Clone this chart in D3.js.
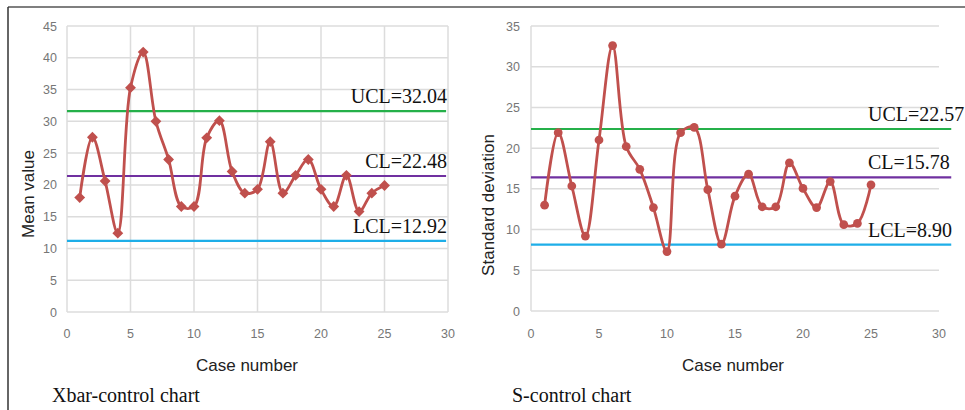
<!DOCTYPE html>
<html>
<head>
<meta charset="utf-8">
<script src="https://cdn.jsdelivr.net/npm/d3@7"></script>
<style>
  html, body { margin: 0; padding: 0; background: #fff; }
  svg { display: block; }
  .tick-label { font-family: "Liberation Sans", Arial, sans-serif; font-size: 12.5px; fill: #767676; }
  .axis-title { font-family: "Liberation Sans", Arial, sans-serif; font-size: 17px; fill: #222; }
  .limit-label, .caption { font-family: "Liberation Serif", "Times New Roman", serif; font-size: 20px; fill: #111; }
</style>
</head>
<body>
<svg id="chart" width="965" height="410"></svg>
<script>
  // case numbers 1..25
  const caseNumbers = [
    1, 2, 3, 4, 5, 6, 7, 8, 9, 10, 11, 12, 13, 14, 15, 16, 17, 18, 19, 20, 21, 22, 23, 24, 25,
  ];

  // Xbar chart (mean value per case)
  const meanValues = [
    18.0, 27.5, 20.6, 12.4, 35.3, 40.9, 30.0, 24.0, 16.6, 16.6, 27.4, 30.1, 22.1,
    18.7, 19.3, 26.8, 18.7, 21.5, 24.0, 19.3, 16.6, 21.5, 15.8, 18.7, 19.9,
  ];
  const meanLimitLevels = [31.6, 21.4, 11.2];
  const meanLimitLabels = ["UCL=32.04", "CL=22.48", "LCL=12.92"];
  const meanYTicks = [0, 5, 10, 15, 20, 25, 30, 35, 40, 45];

  // S chart (standard deviation per case)
  const sdValues = [
    13.0, 21.9, 15.35, 9.2, 21.0, 32.6, 20.2, 17.4, 12.7, 7.3, 21.9, 22.55, 14.9,
    8.2, 14.1, 16.8, 12.8, 12.8, 18.2, 15.05, 12.7, 15.9, 10.6, 10.75, 15.5,
  ];
  const sdLimitLevels = [22.35, 16.4, 8.15];
  const sdLimitLabels = ["UCL=22.57", "CL=15.78", "LCL=8.90"];
  const sdYTicks = [0, 5, 10, 15, 20, 25, 30, 35];

  const xTicks = [0, 5, 10, 15, 20, 25, 30];
  const limitColors = ["#25b04a", "#7030a0", "#1eaee8"];
  const LINE_COLOR = "#c0504d";

  const svg = d3.select("#chart");

  // frame around the figure (top + left edge)
  svg.append("line").attr("x1", 8).attr("x2", 965).attr("y1", 7).attr("y2", 7)
    .attr("stroke", "#555").attr("stroke-width", 1.5);
  svg.append("line").attr("x1", 8).attr("x2", 8).attr("y1", 7).attr("y2", 410)
    .attr("stroke", "#333").attr("stroke-width", 1.5);

  function drawPanel(cfg) {
    const x = d3.scaleLinear().domain([0, 30]).range(cfg.xRange);
    const y = d3.scaleLinear().domain(cfg.yDomain).range(cfg.yRange);
    const g = svg.append("g");

    // horizontal grid
    g.append("g")
      .selectAll("line")
      .data(cfg.yTicks)
      .join("line")
      .attr("x1", x(0)).attr("x2", x(30))
      .attr("y1", (d) => y(d)).attr("y2", (d) => y(d))
      .attr("stroke", "#dcdcdc").attr("stroke-width", 1.5);

    // vertical grid (Xbar chart only) / left axis line
    const vLines = cfg.verticalGrid ? xTicks : [0];
    g.append("g")
      .selectAll("line")
      .data(vLines)
      .join("line")
      .attr("x1", (d) => x(d)).attr("x2", (d) => x(d))
      .attr("y1", y(cfg.yDomain[1])).attr("y2", y(0))
      .attr("stroke", "#dcdcdc").attr("stroke-width", 1.5);

    // tick labels
    g.append("g")
      .selectAll("text")
      .data(cfg.yTicks)
      .join("text")
      .attr("class", "tick-label")
      .attr("x", cfg.yLabelX)
      .attr("y", (d) => y(d) + 4.5)
      .attr("text-anchor", "end")
      .text((d) => d);

    g.append("g")
      .selectAll("text")
      .data(xTicks)
      .join("text")
      .attr("class", "tick-label")
      .attr("x", (d) => x(d))
      .attr("y", 338)
      .attr("text-anchor", "middle")
      .text((d) => d);

    // control limits
    g.append("g")
      .selectAll("line")
      .data(cfg.limits)
      .join("line")
      .attr("x1", x(0)).attr("x2", x(cfg.limitEnd))
      .attr("y1", (d) => y(d)).attr("y2", (d) => y(d))
      .attr("stroke", (d, i) => limitColors[i])
      .attr("stroke-width", 2.2);

    g.append("g")
      .selectAll("text")
      .data(cfg.limits)
      .join("text")
      .attr("class", "limit-label")
      .attr("x", cfg.labelX)
      .attr("y", (d) => y(d) - 8)
      .attr("text-anchor", cfg.labelAnchor)
      .text((d, i) => cfg.limitLabels[i]);

    // data series
    const pts = caseNumbers.map((c, i) => [c, cfg.values[i]]);
    const line = d3.line()
      .x((d) => x(d[0]))
      .y((d) => y(d[1]))
      .curve(d3.curveCatmullRom.alpha(0.5));

    g.append("path")
      .datum(pts)
      .attr("d", line)
      .attr("fill", "none")
      .attr("stroke", LINE_COLOR)
      .attr("stroke-width", 2.8);

    g.append("g")
      .selectAll("path")
      .data(pts)
      .join("path")
      .attr("transform", (d) => "translate(" + x(d[0]) + "," + y(d[1]) + ")")
      .attr("d", d3.symbol().type(cfg.symbol).size(cfg.symbolSize))
      .attr("fill", LINE_COLOR);

    // axis titles
    g.append("text")
      .attr("class", "axis-title")
      .attr("transform", "translate(" + cfg.yTitleX + "," + cfg.yTitleY + ") rotate(-90)")
      .attr("text-anchor", "middle")
      .text(cfg.yTitle);

    g.append("text")
      .attr("class", "axis-title")
      .attr("x", cfg.xTitleX)
      .attr("y", 371)
      .attr("text-anchor", "middle")
      .text("Case number");

    g.append("text")
      .attr("class", "caption")
      .attr("x", cfg.captionX)
      .attr("y", 402)
      .text(cfg.caption);
  }

  drawPanel({
    xRange: [67, 448],
    yDomain: [0, 45],
    yRange: [312, 26],
    yTicks: meanYTicks,
    verticalGrid: true,
    yLabelX: 57,
    values: meanValues,
    limits: meanLimitLevels,
    limitLabels: meanLimitLabels,
    limitEnd: 29.85,
    labelX: 447,
    labelAnchor: "end",
    symbol: d3.symbolDiamond2,
    symbolSize: 75,
    yTitle: "Mean value",
    yTitleX: 34,
    yTitleY: 194,
    xTitleX: 247,
    caption: "Xbar-control chart",
    captionX: 52,
  });

  drawPanel({
    xRange: [531, 939],
    yDomain: [0, 35],
    yRange: [311, 26],
    yTicks: sdYTicks,
    verticalGrid: false,
    yLabelX: 520,
    values: sdValues,
    limits: sdLimitLevels,
    limitLabels: sdLimitLabels,
    limitEnd: 30.9,
    labelX: 868,
    labelAnchor: "start",
    symbol: d3.symbolCircle,
    symbolSize: 60,
    yTitle: "Standard deviation",
    yTitleX: 494,
    yTitleY: 205,
    xTitleX: 733,
    caption: "S-control chart",
    captionX: 512,
  });
</script>
</body>
</html>
